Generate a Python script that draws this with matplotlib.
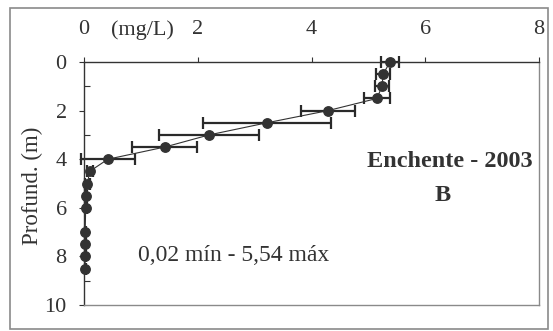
import matplotlib
matplotlib.use("Agg")
import matplotlib.pyplot as plt
from matplotlib.patches import Rectangle
from matplotlib.ticker import MultipleLocator

# depth profile (m) and concentration (mg/L), with horizontal error (± mg/L)
depth = [0, 0.5, 1.0, 1.5, 2.0, 2.5, 3.0, 3.5, 4.0, 4.5, 5.0, 5.5, 6.0, 7.0, 7.5, 8.0, 8.5]
conc = [5.38, 5.26, 5.24, 5.15, 4.29, 3.22, 2.20, 1.42, 0.42, 0.10, 0.06, 0.03, 0.03,
        0.02, 0.02, 0.02, 0.02]
err = [0.16, 0.12, 0.13, 0.23, 0.47, 1.12, 0.88, 0.57, 0.47, 0.05, 0.04, 0.02, 0.02,
       0.01, 0.01, 0.01, 0.01]

x_ticks = [0, 2, 4, 6, 8]
y_ticks = [0, 2, 4, 6, 8, 10]
unit_label = "(mg/L)"
title_lines = ["Enchente - 2003", "B"]
range_note = "0,02 mín - 5,54 máx"

plt.rcParams["font.family"] = ["Liberation Serif", "DejaVu Serif"]
ink = "#333333"

fig = plt.figure(figsize=(5.53, 3.31), dpi=100)
ax = fig.add_axes([84 / 553, 1 - 305 / 331, 455 / 553, 243 / 331])

# outer frame around the whole panel
fig.patches.append(Rectangle((10 / 553, 1 - 329 / 331), 538 / 553, 321 / 331,
                             transform=fig.transFigure, fill=False,
                             edgecolor="#8a8a8a", linewidth=1.2))

ax.errorbar(conc, depth, xerr=err, fmt="none", ecolor="#2a2a2a",
            elinewidth=1.6, capsize=4.5, capthick=1.6, clip_on=False, zorder=2)
ax.plot(conc, depth, color=ink, linewidth=0.8, zorder=3, clip_on=False)
ax.plot(conc, depth, "o", color=ink, markersize=6.8, zorder=4, clip_on=False)

ax.set_xlim(0, 8)
ax.set_ylim(10, 0)
ax.xaxis.tick_top()
ax.set_xticks(x_ticks)
ax.set_yticks(y_ticks)
ax.yaxis.set_minor_locator(MultipleLocator(1))
ax.tick_params(axis="x", direction="out", length=3.5, width=0.8, pad=13,
               labelsize=16, colors=ink)
ax.tick_params(axis="y", which="major", direction="out", length=3.5, width=0.8,
               pad=9, labelsize=16, colors=ink)
ax.tick_params(axis="y", which="minor", direction="in", length=4, width=0.8,
               colors=ink)

ax.spines["top"].set_color(ink)
ax.spines["left"].set_color(ink)
ax.spines["right"].set_color("#8a8a8a")
ax.spines["bottom"].set_color("#8a8a8a")
for s in ax.spines.values():
    s.set_linewidth(1.0)

ax.set_ylabel("Profund. (m)", fontsize=16.5, color=ink, va="center")
ax.yaxis.set_label_coords(-0.114, 0.49)

ax.text(1.03, 1.133, unit_label, transform=ax.get_xaxis_transform(),
        ha="center", va="center", fontsize=16, color=ink)
ax.text(6.43, 4.1, title_lines[0], ha="center", va="center", fontsize=17.5,
        fontweight="bold", color=ink)
ax.text(6.3, 5.5, title_lines[1], ha="center", va="center", fontsize=17.5,
        fontweight="bold", color=ink)
ax.text(0.95, 7.98, range_note, ha="left", va="center", fontsize=17,
        color=ink)

fig.savefig("out.png", dpi=100)
